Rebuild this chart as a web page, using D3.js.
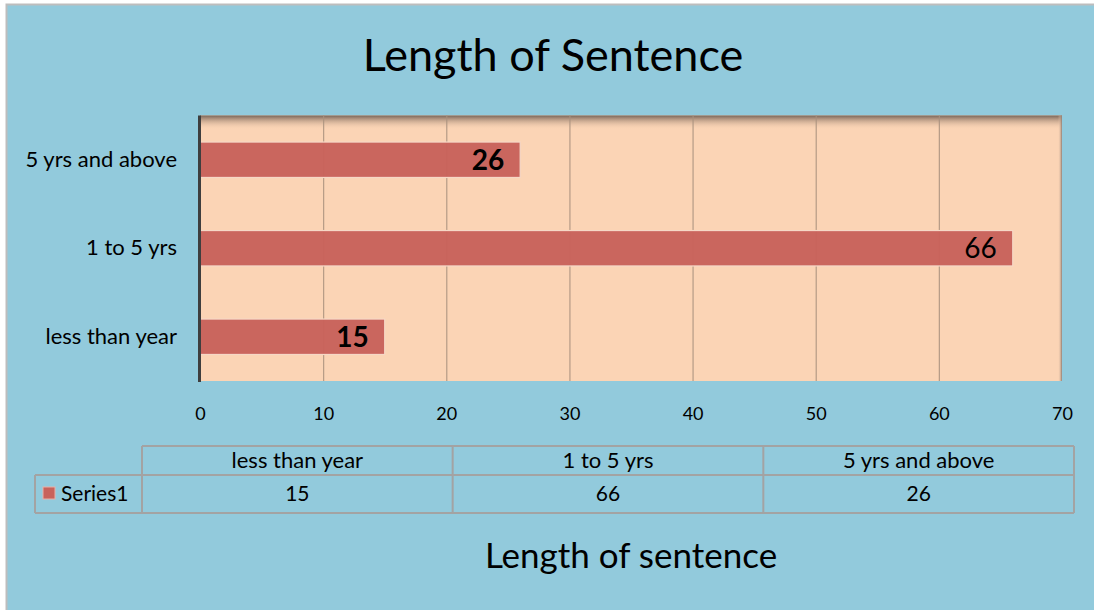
<!DOCTYPE html>
<html><head><meta charset="utf-8">
<script src="https://cdn.jsdelivr.net/npm/d3@7"></script>
<style>
html,body{margin:0;padding:0;background:#fff;}
svg{display:block;}
text{font-family:Lato,"Open Sans",sans-serif;fill:#000;}
</style></head>
<body>
<svg id="chart" width="1094" height="610"></svg>
<script>
const categories = ["less than year", "1 to 5 yrs", "5 yrs and above"];
const values = [15, 66, 26];
const seriesName = "Series1";
const xTicks = [0, 10, 20, 30, 40, 50, 60, 70];
const chartTitle = "Length of Sentence";
const axisTitle = "Length of sentence";

const svg = d3.select("#chart");
const W = 1094, H = 610;

// background + outer border
svg.append("rect").attr("x", 0).attr("y", 0).attr("width", W).attr("height", H).attr("fill", "#fff");
svg.append("rect").attr("x", 6.5).attr("y", 4.5).attr("width", W).attr("height", H).attr("fill", "#92CADC").attr("stroke", "#BDBDBD").attr("stroke-width", 2);

const plot = {left: 200, right: 1062, top: 115.5, bottom: 381};
const x = d3.scaleLinear().domain([0, 70]).range([plot.left, plot.right]);
const y = d3.scaleBand().domain(categories.slice().reverse()).range([plot.top, plot.bottom]).paddingInner(0.6).paddingOuter(0.3);

const defs = svg.append("defs");
const g1 = defs.append("linearGradient").attr("id", "topShade").attr("x1", 0).attr("y1", 0).attr("x2", 0).attr("y2", 1);
g1.append("stop").attr("offset", "0%").attr("stop-color", "#7A6558");
g1.append("stop").attr("offset", "100%").attr("stop-color", "#FBD4B5").attr("stop-opacity", 0);
const g2 = defs.append("linearGradient").attr("id", "rightShade").attr("x1", 0).attr("y1", 0).attr("x2", 1).attr("y2", 0);
g2.append("stop").attr("offset", "0%").attr("stop-color", "#FBD4B5").attr("stop-opacity", 0);
g2.append("stop").attr("offset", "100%").attr("stop-color", "#8E7D74");

// plot area
svg.append("rect").attr("x", plot.left).attr("y", plot.top).attr("width", plot.right - plot.left).attr("height", plot.bottom - plot.top).attr("fill", "#FBD4B5");
svg.append("rect").attr("x", plot.left).attr("y", plot.top).attr("width", plot.right - plot.left).attr("height", 14).attr("fill", "url(#topShade)");
svg.append("rect").attr("x", plot.right - 4).attr("y", plot.top).attr("width", 4).attr("height", plot.bottom - plot.top).attr("fill", "url(#rightShade)");

// gridlines
svg.append("g").selectAll("line").data(xTicks.filter(d => d > 0 && d < 70)).join("line")
  .attr("x1", d => x(d) + 0.5).attr("x2", d => x(d) + 0.5)
  .attr("y1", plot.top).attr("y2", plot.bottom)
  .attr("stroke", "#A8907E").attr("stroke-width", 1.2).attr("stroke-opacity", 0.85);

// bars
const data = categories.map((c, i) => ({c, v: values[i]}));
svg.append("g").selectAll("rect").data(data).join("rect")
  .attr("x", x(0)).attr("y", d => y(d.c))
  .attr("width", d => x(d.v) - x(0)).attr("height", y.bandwidth())
  .attr("fill", "#C8625B").attr("fill-opacity", 0.97)
  .attr("stroke", "#F6D8C6").attr("stroke-width", 1.2);

// left axis line
svg.append("line").attr("x1", plot.left - 0.5).attr("x2", plot.left - 0.5).attr("y1", plot.top).attr("y2", plot.bottom + 1)
  .attr("stroke", "#3E3E3E").attr("stroke-width", 3);

// value labels
svg.append("g").selectAll("text").data(data).join("text")
  .attr("x", d => x(d.v) - 16).attr("y", d => y(d.c) + y.bandwidth() / 2 + 10)
  .attr("text-anchor", "end")
  .attr("font-size", 28)
  .attr("font-weight", d => d.v === 66 ? "normal" : "bold")
  .text(d => d.v);

// y category labels
svg.append("g").selectAll("text").data(categories).join("text")
  .attr("x", 177).attr("y", d => y(d) + y.bandwidth() / 2 + 7)
  .attr("text-anchor", "end").attr("font-size", 22)
  .text(d => d);

// x tick labels
const xAxis = d3.axisBottom(x).tickValues(xTicks).tickSize(0).tickPadding(0).tickFormat(d3.format("d"));
const ax = svg.append("g").attr("transform", `translate(0,${plot.bottom})`).call(xAxis);
ax.select(".domain").remove();
ax.selectAll("text").attr("font-size", 18).attr("font-family", "Lato,sans-serif").attr("fill", "#000").attr("dy", 0).attr("y", 39);

// data table
const tbl = {left: 142, right: 1074, top: 446, mid: 475, bottom: 513, legLeft: 35};
const colX = d3.scaleBand().domain(categories).range([tbl.left, tbl.right]);
const tg = svg.append("g");
const lc = "#A3A3A3";
tg.append("line").attr("x1", tbl.left).attr("x2", tbl.right).attr("y1", tbl.top).attr("y2", tbl.top).attr("stroke", lc).attr("stroke-width", 2);
tg.append("line").attr("x1", tbl.legLeft).attr("x2", tbl.right).attr("y1", tbl.mid).attr("y2", tbl.mid).attr("stroke", lc).attr("stroke-width", 2);
tg.append("line").attr("x1", tbl.legLeft).attr("x2", tbl.right).attr("y1", tbl.bottom).attr("y2", tbl.bottom).attr("stroke", lc).attr("stroke-width", 2);
tg.append("line").attr("x1", tbl.legLeft).attr("x2", tbl.legLeft).attr("y1", tbl.mid).attr("y2", tbl.bottom).attr("stroke", lc).attr("stroke-width", 2);
tg.selectAll("line.v").data(categories.map(c => colX(c)).concat([tbl.right])).join("line").attr("class", "v")
  .attr("x1", d => d).attr("x2", d => d).attr("y1", tbl.top).attr("y2", tbl.bottom).attr("stroke", lc).attr("stroke-width", 2);
tg.selectAll("text.h").data(categories).join("text").attr("class", "h")
  .attr("x", d => colX(d) + colX.bandwidth() / 2).attr("y", 468)
  .attr("text-anchor", "middle").attr("font-size", 22).text(d => d);
tg.selectAll("text.v").data(data).join("text").attr("class", "v")
  .attr("x", d => colX(d.c) + colX.bandwidth() / 2).attr("y", 501)
  .attr("text-anchor", "middle").attr("font-size", 21).text(d => d.v);
tg.append("rect").attr("x", 43).attr("y", 487).attr("width", 12).attr("height", 12).attr("fill", "#C8625B").attr("stroke", "#E8B0A8").attr("stroke-width", 1);
tg.append("text").attr("x", 61).attr("y", 501).attr("font-size", 21).text(seriesName);

// titles
svg.append("text").attr("x", 553).attr("y", 71).attr("text-anchor", "middle").attr("font-size", 45).text(chartTitle);
svg.append("text").attr("x", 631).attr("y", 568).attr("text-anchor", "middle").attr("font-size", 35).text(axisTitle);
</script>
</body></html>
